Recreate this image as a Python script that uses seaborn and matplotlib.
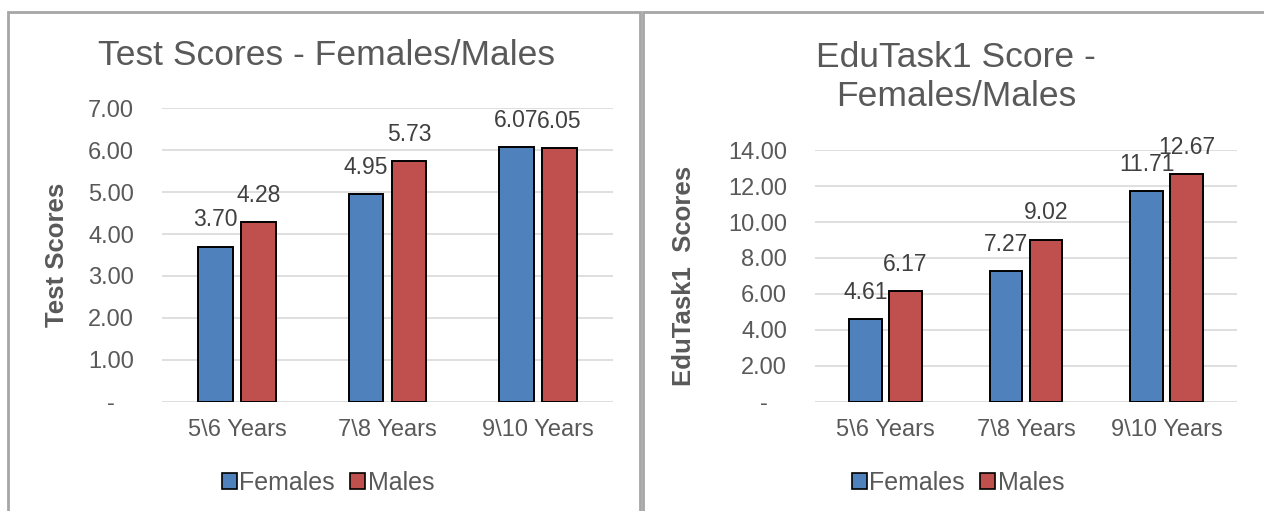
import matplotlib
matplotlib.use("Agg")
import matplotlib.pyplot as plt
import matplotlib.ticker as mticker
from matplotlib.patches import Patch, Rectangle
import pandas as pd
import seaborn as sns

# data
age_groups = ["5\\6 Years", "7\\8 Years", "9\\10 Years"]
genders = ["Females", "Males"]
test_females = [3.70, 4.95, 6.07]
test_males = [4.28, 5.73, 6.05]
edu_females = [4.61, 7.27, 11.71]
edu_males = [6.17, 9.02, 12.67]

palette = {"Females": "#4F81BD", "Males": "#C0504D"}
text_col = "#595959"

sns.set_style("white")
plt.rcParams["font.family"] = ["Liberation Sans", "DejaVu Sans"]


def long_df(fem, mal):
    return pd.DataFrame({
        "age": age_groups * 2,
        "gender": ["Females"] * 3 + ["Males"] * 3,
        "score": fem + mal,
    })


def fmt_y(v, pos):
    return "-   " if abs(v) < 1e-9 else f"{v:.2f}"


def draw(ax, df, ymax, step, ylabel, label_x):
    sns.barplot(data=df, x="age", y="score", hue="gender", hue_order=genders,
                palette=palette, saturation=1, width=0.57, gap=0.19,
                edgecolor="black", linewidth=1.4, legend=False, ax=ax, zorder=3)
    ax.set_ylim(0, ymax)
    ax.set_yticks([i * step for i in range(int(ymax / step) + 1)])
    ax.yaxis.set_major_formatter(mticker.FuncFormatter(fmt_y))
    ax.grid(axis="y", color="#D9D9D9", linewidth=1.2, zorder=0)
    ax.set_axisbelow(True)
    for s in ax.spines.values():
        s.set_visible(False)
    ax.tick_params(axis="y", length=0, pad=20, labelsize=17, labelcolor=text_col)
    ax.tick_params(axis="x", length=0, pad=12, labelsize=17, labelcolor=text_col)
    ax.set_xlabel("")
    ax.set_ylabel(ylabel, fontsize=18.5, fontweight="bold", color=text_col)
    ax.yaxis.set_label_coords(label_x, 0.5)
    for c in ax.containers:
        ax.bar_label(c, fmt="%.2f", padding=11, fontsize=16.5, color="#404040")


fig = plt.figure(figsize=(12.64, 5.11), dpi=100)

# panel frames
fig.patches.append(Rectangle((8 / 1264, -0.1), 632 / 1264, 1.1 - 12 / 511,
                             transform=fig.transFigure, fill=False,
                             edgecolor="#A6A6A6", linewidth=2))
fig.patches.append(Rectangle((643 / 1264, -0.1), 0.6, 1.1 - 12 / 511,
                             transform=fig.transFigure, fill=False,
                             edgecolor="#A6A6A6", linewidth=2))

ax1 = fig.add_axes([162 / 1264, 1 - 402 / 511, 451 / 1264, 294 / 511])
ax2 = fig.add_axes([815 / 1264, 1 - 402 / 511, 422 / 1264, 252 / 511])

draw(ax1, long_df(test_females, test_males), 7, 1, "Test Scores", -0.206)
draw(ax2, long_df(edu_females, edu_males), 14, 2, "EduTask1  Scores", -0.282)

fig.text(326 / 1264, 1 - 55 / 511, "Test Scores - Females/Males", ha="center",
         va="center", fontsize=25.5, color=text_col)
fig.text(956 / 1264, 1 - 77 / 511, "EduTask1 Score -\nFemales/Males", ha="center",
         va="center", fontsize=25.5, color=text_col, linespacing=1.2)

handles = [Patch(facecolor=palette[g], edgecolor="black", linewidth=1.2) for g in genders]
for cx in (328, 958):
    fig.legend(handles, genders, loc="center", bbox_to_anchor=(cx / 1264, 1 - 483 / 511),
               ncol=2, frameon=False, fontsize=18, handlelength=0.6, handleheight=0.6,
               handletextpad=0.1, columnspacing=0.6, labelcolor=text_col)

fig.savefig("out.png", dpi=100)
